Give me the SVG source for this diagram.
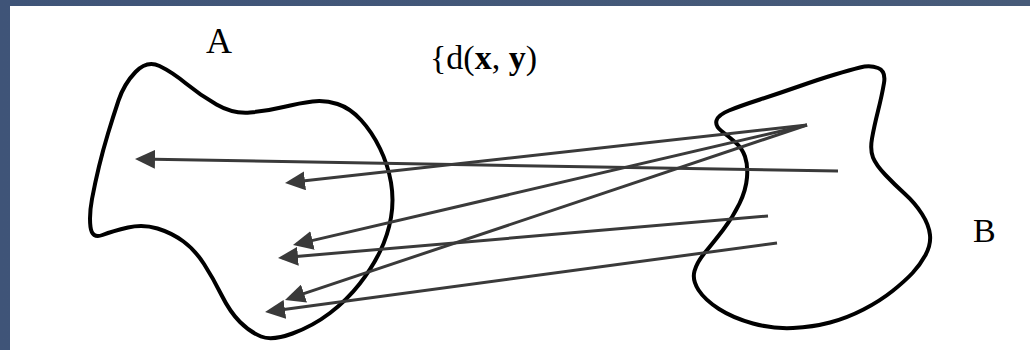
<svg xmlns="http://www.w3.org/2000/svg" width="1030" height="350" viewBox="0 0 1030 350">
  <style>
    .blob { fill: none; stroke: #000; stroke-width: 4; stroke-linejoin: round; }
    .conn { stroke: #3a3a3a; stroke-width: 3; fill: none; marker-end: url(#arrow); }
    .lbl { font-family: "Liberation Serif", "Times New Roman", serif; font-size: 34px; fill: #000; }
  </style>
  <defs>
    <linearGradient id="bg" x1="0" y1="0" x2="1" y2="0">
      <stop offset="0" stop-color="#3f5478"/>
      <stop offset="1" stop-color="#475b79"/>
    </linearGradient>
    <marker id="arrow" markerUnits="userSpaceOnUse" markerWidth="20" markerHeight="19" refX="16" refY="9.5" orient="auto" viewBox="0 0 20 19">
      <path d="M0,0 L20,9.5 L0,19 Z" fill="#3a3a3a"/>
    </marker>
  </defs>
  <rect x="0" y="0" width="1030" height="350" fill="url(#bg)"/>
  <rect x="10" y="6" width="1020" height="344" fill="#ffffff"/>

  <g id="nodeA">
    <path class="blob" d="M 159.5 66 Q 172 72 186 83.5 Q 200 95 216.5 104.5 Q 233 114 250 112.5 Q 267 111 283.5 107 Q 300 103 312.5 101.5 Q 325 100 337.5 104 Q 350 108 361 120 Q 372 132 380 148.5 Q 388 165 391 182.5 Q 394 200 391 217.5 Q 388 235 380 251.5 Q 372 268 359.5 284 Q 347 300 330 313 Q 313 326 292.5 333.5 Q 272 341 261 336.5 Q 250 332 240 322 Q 230 312 221.5 295 Q 213 278 204 264 Q 195 250 183.5 241.5 Q 172 233 157.5 228.5 Q 143 224 128 227.5 Q 113 231 102.5 235 Q 92 239 90.5 227 Q 89 215 92 199 Q 95 183 99 166.5 Q 103 150 108 133.5 Q 113 117 118.5 100.5 Q 124 84 135.5 72 Q 147 60 159.5 66 Z"/>
    <text class="lbl" x="206" y="53" style="font-size:36px">A</text>
  </g>

  <g id="nodeB">
    <path class="blob" d="M 878 68 Q 886 71 884 83 Q 882 95 878 111 Q 874 127 872 138.5 Q 870 150 873 157.5 Q 876 165 885.5 175 Q 895 185 905 194 Q 915 203 922 214 Q 929 225 930 235 Q 931 245 925.5 255 Q 920 265 912.5 273 Q 905 281 892.5 291 Q 880 301 863.5 309.5 Q 847 318 830 322.5 Q 813 327 793 328 Q 773 329 753 323.5 Q 733 318 719 309 Q 705 300 698.5 290 Q 692 280 694.5 271 Q 697 262 705 252.5 Q 713 243 723 230 Q 733 217 739.5 203.5 Q 746 190 747 177.5 Q 748 165 745 156.5 Q 742 148 735 142 Q 728 136 721.5 131 Q 715 126 716.5 120.5 Q 718 115 729 110.5 Q 740 106 760 99.5 Q 780 93 800 86 Q 820 79 835 74.5 Q 850 70 860 67.5 Q 870 65 878 68 Z"/>
    <text class="lbl" x="973" y="242">B</text>
  </g>

  <g id="formula">
    <text class="lbl" x="430" y="69">{d(<tspan font-weight="bold">x</tspan>, <tspan font-weight="bold">y</tspan>)</text>
  </g>

  <g id="connectors">
    <line class="conn" x1="838" y1="171" x2="139" y2="159.1"/>
    <line class="conn" x1="807" y1="125" x2="289" y2="182.6"/>
    <line class="conn" x1="807" y1="125" x2="296.9" y2="244.1"/>
    <line class="conn" x1="807" y1="125" x2="288.8" y2="298.7"/>
    <line class="conn" x1="768" y1="216" x2="282" y2="257.7"/>
    <line class="conn" x1="777" y1="243" x2="269" y2="311.5"/>
  </g>
</svg>
